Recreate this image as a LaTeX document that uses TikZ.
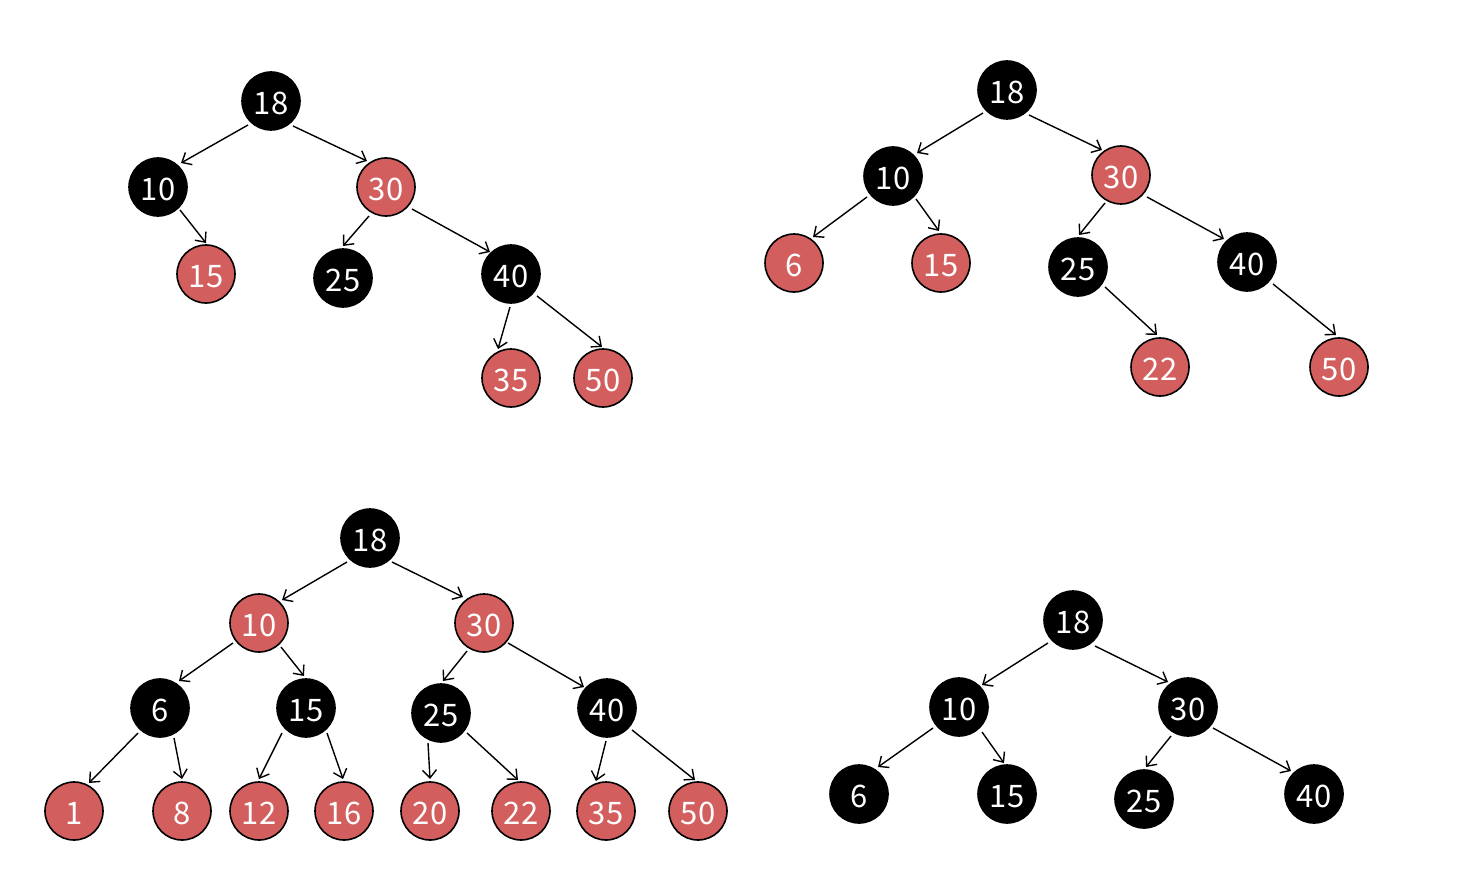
\documentclass[tikz,border=0pt]{standalone}
\usepackage{fontspec}
\setmainfont{Noto Sans CJK SC}
\usetikzlibrary{arrows.meta}
\definecolor{rbred}{RGB}{211,94,94}
\tikzset{
  bn/.style={circle,fill=black,draw=black,line width=0.8pt,minimum size=29pt,inner sep=0pt,text=white,
    font=\fontsize{15.5}{15.5}\selectfont,text height=13.3pt,text depth=0pt},
  rn/.style={bn,fill=rbred},
  ed/.style={-{Straight Barb[length=4pt,width=7pt]},line width=0.7pt}
}
\newcommand\rbedge[4]{\draw[ed] ([shift={#2}]#1.center) -- ([shift={#4}]#3.center);}
\begin{document}
\begin{tikzpicture}[x=0.5pt,y=-0.5pt]
\useasboundingbox (0,0) rectangle (1459,893);
% tree 1
\node[bn] (a18) at (271,101) {18};
\node[bn] (a10) at (158,187) {10};
\node[rn] (a30) at (386,187) {30};
\node[rn] (a15) at (206,274) {15};
\node[bn] (a25) at (343,278) {25};
\node[bn] (a40) at (511,274) {40};
\node[rn] (a35) at (511,378) {35};
\node[rn] (a50) at (603,378) {50};
\rbedge{a18}{(-23,24)}{a10}{(23,-24)}
\rbedge{a18}{(22,25)}{a30}{(-19,-26)}
\rbedge{a10}{(22,23)}{a15}{(0,-31)}
\rbedge{a30}{(-17,29)}{a25}{(0,-32)}
\rbedge{a30}{(26,22)}{a40}{(-21,-22)}
\rbedge{a40}{(-1,33)}{a35}{(-13,-29)}
\rbedge{a40}{(26,22)}{a50}{(-1,-31)}
% tree 2
\node[bn] (b18) at (1007,90) {18};
\node[bn] (b10) at (893,176) {10};
\node[rn] (b30) at (1121,175) {30};
\node[rn] (b6) at (794,263) {6};
\node[rn] (b15) at (941,263) {15};
\node[bn] (b25) at (1078,267) {25};
\node[bn] (b40) at (1247,262) {40};
\node[rn] (b22) at (1160,367) {22};
\node[rn] (b50) at (1339,367) {50};
\rbedge{b18}{(-24,23)}{b10}{(24,-23)}
\rbedge{b18}{(22,25)}{b30}{(-19,-25)}
\rbedge{b10}{(-26,21)}{b6}{(19,-26)}
\rbedge{b10}{(23,23)}{b15}{(-2,-32)}
\rbedge{b30}{(-16,28)}{b25}{(1,-32)}
\rbedge{b30}{(26,22)}{b40}{(-23,-23)}
\rbedge{b25}{(27,20)}{b22}{(-3,-32)}
\rbedge{b40}{(26,22)}{b50}{(-3,-32)}
% tree 3
\node[bn] (c18) at (370,538) {18};
\node[rn] (c10) at (259,623) {10};
\node[rn] (c30) at (484,623) {30};
\node[bn] (c6) at (160,708) {6};
\node[bn] (c15) at (306,708) {15};
\node[bn] (c25) at (441,713) {25};
\node[bn] (c40) at (607,708) {40};
\node[rn] (c1) at (74,811) {1};
\node[rn] (c8) at (182,811) {8};
\node[rn] (c12) at (259,811) {12};
\node[rn] (c16) at (344,811) {16};
\node[rn] (c20) at (430,811) {20};
\node[rn] (c22) at (521,811) {22};
\node[rn] (c35) at (606,811) {35};
\node[rn] (c50) at (698,811) {50};
\rbedge{c18}{(-23,24)}{c10}{(23,-23)}
\rbedge{c18}{(22,24)}{c30}{(-21,-26)}
\rbedge{c10}{(-26,20)}{c6}{(19,-27)}
\rbedge{c10}{(22,24)}{c15}{(-2,-32)}
\rbedge{c30}{(-17,28)}{c25}{(2,-32)}
\rbedge{c30}{(24,20)}{c40}{(-23,-21)}
\rbedge{c6}{(-22,25)}{c1}{(15,-28)}
\rbedge{c6}{(14,30)}{c8}{(0,-32)}
\rbedge{c15}{(-24,25)}{c12}{(0,-32)}
\rbedge{c15}{(21,25)}{c16}{(-1,-32)}
\rbedge{c25}{(-13,30)}{c20}{(0,-32)}
\rbedge{c25}{(26,20)}{c22}{(-3,-31)}
\rbedge{c40}{(-1,33)}{c35}{(-10,-30)}
\rbedge{c40}{(25,22)}{c50}{(-3,-31)}
% tree 4
\node[bn] (d18) at (1073,620) {18};
\node[bn] (d10) at (959,707) {10};
\node[bn] (d30) at (1188,707) {30};
\node[bn] (d6) at (859,794) {6};
\node[bn] (d15) at (1007,794) {15};
\node[bn] (d25) at (1144,799) {25};
\node[bn] (d40) at (1314,794) {40};
\rbedge{d18}{(-25,23)}{d10}{(23,-22)}
\rbedge{d18}{(22,26)}{d30}{(-20,-25)}
\rbedge{d10}{(-26,21)}{d6}{(19,-27)}
\rbedge{d10}{(23,25)}{d15}{(-3,-31)}
\rbedge{d30}{(-17,29)}{d25}{(2,-32)}
\rbedge{d30}{(25,21)}{d40}{(-23,-23)}
\end{tikzpicture}
\end{document}
